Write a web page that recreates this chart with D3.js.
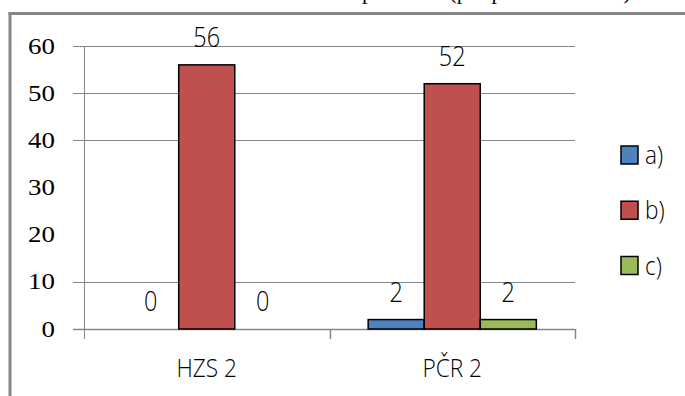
<!DOCTYPE html>
<html>
<head>
<meta charset="utf-8">
<script src="https://cdn.jsdelivr.net/npm/d3@7"></script>
<style>
  html, body { margin: 0; padding: 0; background: #fff; }
  svg { display: block; }
  .serif { font-family: "Liberation Serif", "Times New Roman", serif; }
  .sans { font-family: "Open Sans", "Liberation Sans", sans-serif; font-weight: 300; }
</style>
</head>
<body>
<svg id="chart" width="685" height="396"></svg>
<script>
// Groups on the category axis
const categories = ["HZS 2", "PČR 2"];
// Answer options (series)
const seriesNames = ["a)", "b)", "c)"];
const seriesColors = ["#4F81BD", "#C0504D", "#9BBB59"];
// Counts per category, one array per answer option
const valuesA = [0, 2];
const valuesB = [56, 52];
const valuesC = [0, 2];
// Value axis
const yTickLabels = [0, 10, 20, 30, 40, 50, 60];
const gridTicks = [0, 10, 40, 50, 60];
const titleText = "Počet respondentů (pro policii a hasiče)";

const seriesValues = [valuesA, valuesB, valuesC];

const svg = d3.select("#chart");
const grey = "#868686";
const narrow = 0.87; // horizontal squeeze for the sans labels

// outer frame of the chart area
svg.append("line").attr("x1", 10).attr("x2", 10).attr("y1", 12).attr("y2", 396)
  .attr("stroke", grey).attr("stroke-width", 3);
svg.append("line").attr("x1", 8.5).attr("x2", 685).attr("y1", 13.5).attr("y2", 13.5)
  .attr("stroke", grey).attr("stroke-width", 3);

// title sits above the frame, mostly outside the page
svg.append("text").attr("class", "serif")
  .attr("x", 282).attr("y", -1)
  .attr("font-size", 22)
  .attr("fill", "#000")
  .text(titleText);

const plot = { left: 84, right: 575, top: 46, bottom: 329 };

const y = d3.scaleLinear().domain([0, 60]).range([plot.bottom, plot.top]);
const x = d3.scaleBand().domain(categories).range([plot.left, plot.right])
  .paddingInner(0).paddingOuter(0);
const xs = d3.scaleBand().domain(seriesNames).range([0, x.bandwidth()])
  .paddingInner(0).paddingOuter(0.69);

// gridlines with their left tick marks
svg.append("g").selectAll("line").data(gridTicks).join("line")
  .attr("x1", plot.left - 11).attr("x2", plot.right)
  .attr("y1", d => Math.round(y(d)) + 0.5).attr("y2", d => Math.round(y(d)) + 0.5)
  .attr("stroke", grey).attr("stroke-width", d => d === 0 ? 1.5 : 1);

// value axis line
svg.append("line").attr("x1", plot.left + 0.5).attr("x2", plot.left + 0.5)
  .attr("y1", plot.top).attr("y2", plot.bottom + 10)
  .attr("stroke", grey).attr("stroke-width", 1);

// category boundary ticks
const bounds = categories.map(c => x(c) + x.bandwidth());
svg.append("g").selectAll("line").data(bounds).join("line")
  .attr("x1", d => Math.round(d) + 0.5).attr("x2", d => Math.round(d) + 0.5)
  .attr("y1", plot.bottom).attr("y2", plot.bottom + 10)
  .attr("stroke", grey).attr("stroke-width", 1.5);

// value axis labels
svg.append("g").selectAll("text").data(yTickLabels).join("text")
  .attr("class", "serif")
  .attr("text-anchor", "end")
  .attr("font-size", 23)
  .attr("fill", "#000")
  .attr("transform", d => `translate(55,${y(d) + 7.5}) scale(1.17,1)`)
  .text(d => d);

// bars
const rows = [];
categories.forEach((c, ci) => {
  seriesNames.forEach((s, si) => {
    rows.push({ cat: c, series: s, si, value: seriesValues[si][ci] });
  });
});

svg.append("g").selectAll("rect").data(rows.filter(d => d.value > 0)).join("rect")
  .attr("x", d => x(d.cat) + xs(d.series))
  .attr("y", d => y(d.value))
  .attr("width", xs.bandwidth())
  .attr("height", d => y(0) - y(d.value))
  .attr("fill", d => seriesColors[d.si])
  .attr("stroke", "#000")
  .attr("stroke-width", 1.5);

// value labels
svg.append("g").selectAll("text").data(rows).join("text")
  .attr("class", "sans")
  .attr("text-anchor", "middle")
  .attr("font-size", 27)
  .attr("fill", "#000")
  .attr("transform", d =>
    `translate(${x(d.cat) + xs(d.series) + xs.bandwidth() / 2},${y(d.value) - 18}) scale(${narrow},1)`)
  .text(d => d.value);

// category labels
svg.append("g").selectAll("text").data(categories).join("text")
  .attr("class", "sans")
  .attr("text-anchor", "middle")
  .attr("font-size", 26)
  .attr("fill", "#000")
  .attr("transform", d => `translate(${x(d) + x.bandwidth() / 2},377) scale(${narrow},1)`)
  .text(d => d);

// legend
const legendY = d3.scalePoint().domain(seriesNames).range([154.5, 265]);
const lg = svg.append("g").selectAll("g").data(seriesNames).join("g")
  .attr("transform", d => `translate(621,${legendY(d)})`);
lg.append("rect")
  .attr("x", 0).attr("y", -8.5).attr("width", 17).attr("height", 18)
  .attr("fill", (d, i) => seriesColors[i])
  .attr("stroke", "#000").attr("stroke-width", 1.5);
lg.append("text")
  .attr("class", "sans")
  .attr("font-size", 26)
  .attr("fill", "#000")
  .attr("transform", `translate(24,9.5) scale(${narrow},1)`)
  .text(d => d);
</script>
</body>
</html>
